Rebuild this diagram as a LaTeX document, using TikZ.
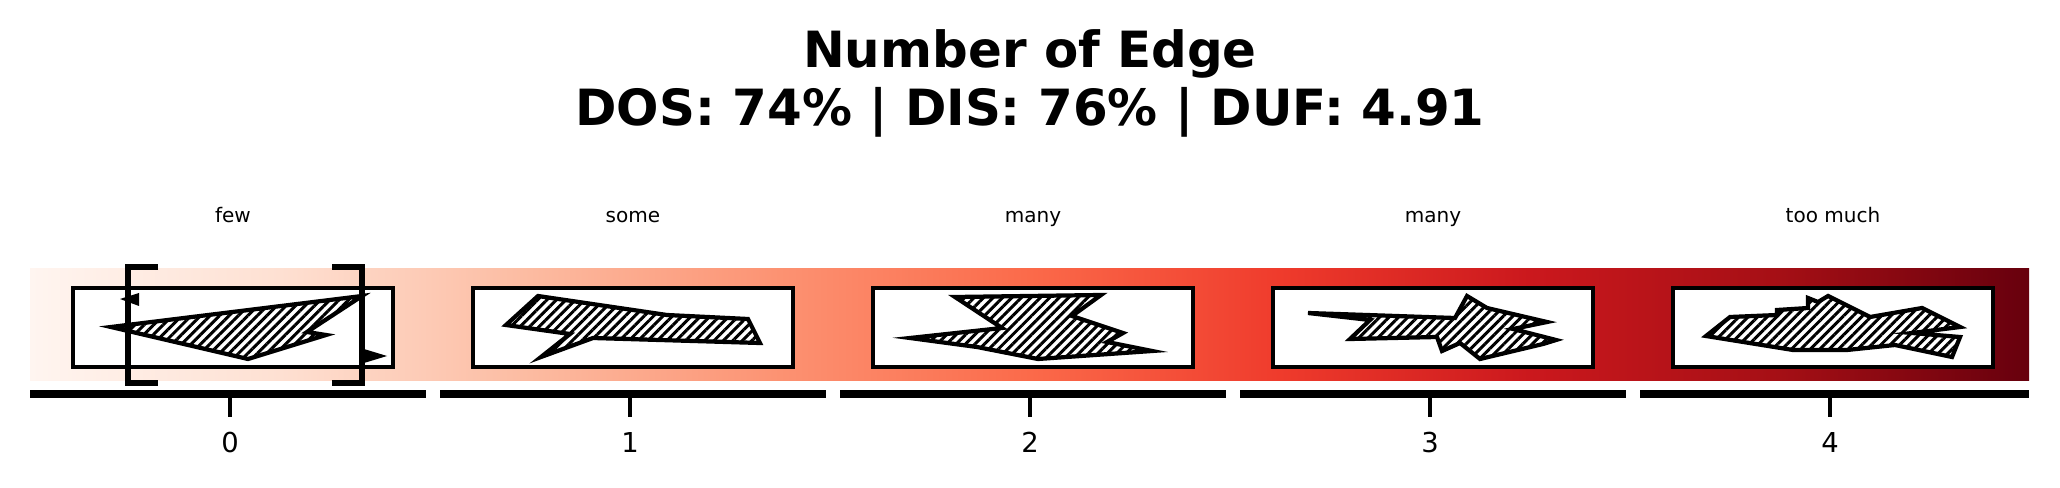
\documentclass[tikz,border=0pt]{standalone}
\usepackage{fontspec}
\setmainfont{DejaVu Sans}
\usetikzlibrary{patterns.meta}
\definecolor{reds0}{RGB}{255,245,240}
\definecolor{reds1}{RGB}{254,224,210}
\definecolor{reds2}{RGB}{252,187,161}
\definecolor{reds3}{RGB}{252,146,114}
\definecolor{reds4}{RGB}{251,106,74}
\definecolor{reds5}{RGB}{239,59,44}
\definecolor{reds6}{RGB}{203,24,29}
\definecolor{reds7}{RGB}{165,15,21}
\definecolor{reds8}{RGB}{103,0,13}
\pgfdeclarehorizontalshading{redsbar}{100bp}{color(0bp)=(reds0); color(25bp)=(reds0); color(31.25bp)=(reds1); color(37.5bp)=(reds2); color(43.75bp)=(reds3); color(50bp)=(reds4); color(56.25bp)=(reds5); color(62.5bp)=(reds6); color(68.75bp)=(reds7); color(75bp)=(reds8); color(100bp)=(reds8)}
\tikzset{
 panelbox/.style={rectangle,draw=black,line width=0.95pt,fill=white,minimum width=32mm,minimum height=7.9mm,inner sep=0pt},
 hatched/.style={draw=black,line width=1.2pt,pattern={Lines[angle=45,distance=1.9pt,line width=0.85pt]}},
 spine/.style={draw=black,line width=2.3pt},
 tickmark/.style={draw=black,line width=1.1pt},
 bracket/.style={draw=black,line width=1.7pt},
 marker/.style={fill=black},
 figtitle/.style={anchor=base,font=\fontsize{14.2}{17}\selectfont\bfseries},
 paneltitle/.style={anchor=base,font=\fontsize{5.7}{7}\selectfont},
 ticklabel/.style={anchor=base,font=\fontsize{7.8}{9}\selectfont}}
\begin{document}
\begin{tikzpicture}[x=0.1mm,y=-0.1mm]
\useasboundingbox (0,0) rectangle (2060,488);
\node[figtitle] (title) at (1030,68) {Number of Edge};
\node[figtitle] (scores) at (1030,126) {DOS: 74\% | DIS: 76\% | DUF: 4.91};
\shade[shading=redsbar] (30,269) rectangle (2029,380);
\foreach \i/\lbl/\sa/\sb in {0/few/30/426,1/some/440/826,2/many/840/1226,3/many/1240/1626,4/too much/1640/2029}{
 \pgfmathsetmacro\cx{230+400*\i}
 \node[panelbox] (box\i) at (\cx+3,327.5) {};
 \node[paneltitle] (name\i) at (\cx+3,223) {\lbl};
 \draw[spine] (\sa,394) -- (\sb,394);
 \draw[tickmark] (\cx,398) -- (\cx,417);
 \node[ticklabel] (num\i) at (\cx,453) {\i};
}
\draw[hatched] (111,327) -- (362,296) -- (307,332) -- (326,335) -- (248,359) -- cycle;
\draw[hatched] (506,325) -- (570,334) -- (541,357) -- (593,338) -- (760,343) -- (748,319) -- (667,315) -- (538,296) -- cycle;
\draw[hatched] (955,297) -- (1101,295) -- (1072,316) -- (1123,333) -- (1107,342) -- (1152,351) -- (1038,359) -- (977,347) -- (910,338) -- (1002,328) -- cycle;
\draw[hatched] (1308,313) -- (1455,318) -- (1467,296) -- (1487,308) -- (1547,322) -- (1513,329) -- (1556,340) -- (1543,344) -- (1480,359) -- (1460,343) -- (1442,351) -- (1437,337) -- (1350,339) -- (1370,320) -- cycle;
\draw[hatched] (1706,336) -- (1730,317) -- (1777,315) -- (1777,310) -- (1808,308) -- (1808,298) -- (1818,302) -- (1828,296) -- (1870,317) -- (1922,308) -- (1960,327) -- (1912,333) -- (1960,337) -- (1952,357) -- (1895,345) -- (1847,350) -- (1793,350) -- cycle;
\draw[bracket] (158,267) -- (128,267) -- (128,383) -- (158,383);
\draw[bracket] (332,267) -- (362,267) -- (362,383) -- (332,383);
\fill[marker] (120,299) -- (139,293) -- (139,306) -- cycle;
\fill[marker] (387,356) -- (364,349) -- (364,363) -- cycle;
\end{tikzpicture}
\end{document}
